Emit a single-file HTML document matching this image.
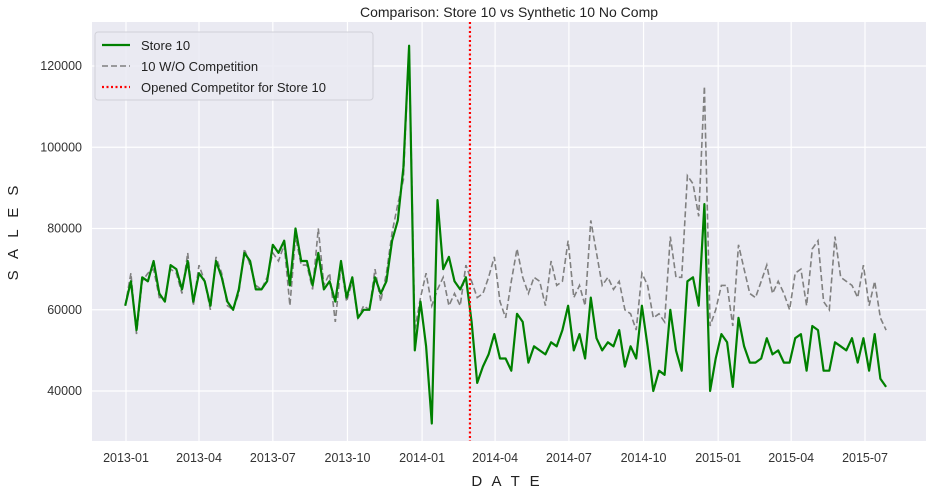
<!DOCTYPE html>
<html><head><meta charset="utf-8"><style>
body{margin:0;background:#fff;font-family:"Liberation Sans","DejaVu Sans",sans-serif}
</style></head><body>
<svg id="c" width="929" height="492" xmlns="http://www.w3.org/2000/svg"></svg>
<script>
const storeValues=[61,67,55,68,67,72,64,62,71,70,65,72,62,69,67,61,72,68,62,60,65,74,72,65,65,67,76,74,77,66,80,72,72,66,74,65,67,62,72,63,68,58,60,60,68,64,67,77,82,95,125,
50,62,51,32,87,70,73,67,65,68,57,42,46,49,54,48,48,45,59,57,47,51,50,49,52,51,55,61,50,54,48,63,53,50,52,51,55,46,51,48,61,51,40,45,44,60,50,45,67,68,61,86,40,48,54,52,41,58,51,47,47,48,53,49,50,47,47,53,54,45,56,55,45,45,52,51,50,53,47,53,45,54,43,41];
const synthValues=[61,69,54,67,69,70,63,63,70,69,64,74,61,71,67,60,73,69,61,60,64,75,71,66,65,68,74,72,76,61,78,71,71,65,80,66,69,57,71,62,67,58,61,60,70,62,69,79,86,92,125,
55,63,69,61,65,68,61,64,61,71,67,63,64,68,73,62,58,67,75,68,64,68,67,61,72,66,67,77,63,66,61,82,74,66,68,65,67,60,59,55,69,66,58,59,57,78,68,68,93,91,83,115,56,60,66,66,56,76,70,64,63,67,71,64,67,64,60,69,70,61,75,77,62,60,78,68,67,66,63,71,61,67,58,55];
const yTicks=[40000,60000,80000,100000,120000];
const xTickLabels=["2013-01","2013-04","2013-07","2013-10","2014-01","2014-04","2014-07","2014-10","2015-01","2015-04","2015-07"];
const startDate="2012-12-31";
const competitorDate="2014-03-01";
const chartTitle="Comparison: Store 10 vs Synthetic 10 No Comp";

const NS="http://www.w3.org/2000/svg",svg=document.getElementById('c');
const L=92,R=926,T=22,B=441;
const day=864e5,t0=Date.UTC(2013,0,1);
function xs(d){return 126+(d-t0)/day*0.8112;}
function ys(v){return 391-(v-40000)*325/80000;}
function mk(tag,attrs,parent){const e=document.createElementNS(NS,tag);for(const k in attrs)e.setAttribute(k,attrs[k]);(parent||svg).appendChild(e);return e;}
function pd(s){const p=s.split('-').map(Number);return Date.UTC(p[0],p[1]-1,p[2]||1);}
let e=mk('rect',{x:L,y:T,width:R-L,height:B-T,fill:'#eaeaf2'});


yTicks.forEach(v=>{const y=ys(v);
 let g=mk('line',{x1:L,x2:R,y1:y,y2:y,stroke:'#fff','stroke-width':1.2});
 
 
 let t=mk('text',{x:L-10,y:y+4,'text-anchor':'end','font-size':12.5,fill:'#333'});t.textContent=v;
 
 });
xTickLabels.forEach(s=>{const x=xs(pd(s));
 let g=mk('line',{x1:x,x2:x,y1:T,y2:B,stroke:'#fff','stroke-width':1.2});
 
 
 let t=mk('text',{x:x,y:B+21,'text-anchor':'middle','font-size':12.5,fill:'#333'});t.textContent=s;
 
 });
const s0=pd(startDate);
function path(vals){return vals.map((v,i)=>(i?'L':'M')+xs(s0+i*7*day).toFixed(1)+','+ys(v*1000).toFixed(1)).join('');}
let sp=mk('path',{d:path(synthValues),fill:'none',stroke:'#808080','stroke-width':1.6,'stroke-dasharray':'6,3'});


let st=mk('path',{d:path(storeValues),fill:'none',stroke:'#008000','stroke-width':2.2,'stroke-linejoin':'round'});


const cx=xs(pd(competitorDate));
let cl=mk('line',{x1:cx,x2:cx,y1:T,y2:B,stroke:'#f00','stroke-width':2.2,'stroke-dasharray':'2,2.5'});


let ti=mk('text',{x:509,y:17,'text-anchor':'middle','font-size':14,fill:'#222'});ti.textContent=chartTitle;


let yl=mk('text',{x:0,y:0,transform:'translate(18,231) rotate(-90)','text-anchor':'middle','font-size':15,fill:'#222','letter-spacing':'4'});yl.textContent='S A L E S';


let xl=mk('text',{x:507,y:486,'text-anchor':'middle','font-size':15,fill:'#222','letter-spacing':'3'});xl.textContent='D A T E';


const lg=mk('g',{});


mk('rect',{x:95,y:32,width:278,height:68,rx:3,fill:'#eaeaf2','fill-opacity':0.85,stroke:'#d0d0d8'},lg);
const items=[['Store 10','#008000','none',2.2],['10 W/O Competition','#808080','6,3',1.6],['Opened Competitor for Store 10','#f00','2,2.5',2.2]];
items.forEach((it,i)=>{const y=45+i*21;
 const g=mk('g',{},lg);
 
 
 mk('line',{x1:102,x2:130,y1:y,y2:y,stroke:it[1],'stroke-width':it[3],'stroke-dasharray':it[2]},g);
 const t=mk('text',{x:141,y:y+5,'font-size':13,fill:'#222'},g);t.textContent=it[0];});
</script>
</body></html>
